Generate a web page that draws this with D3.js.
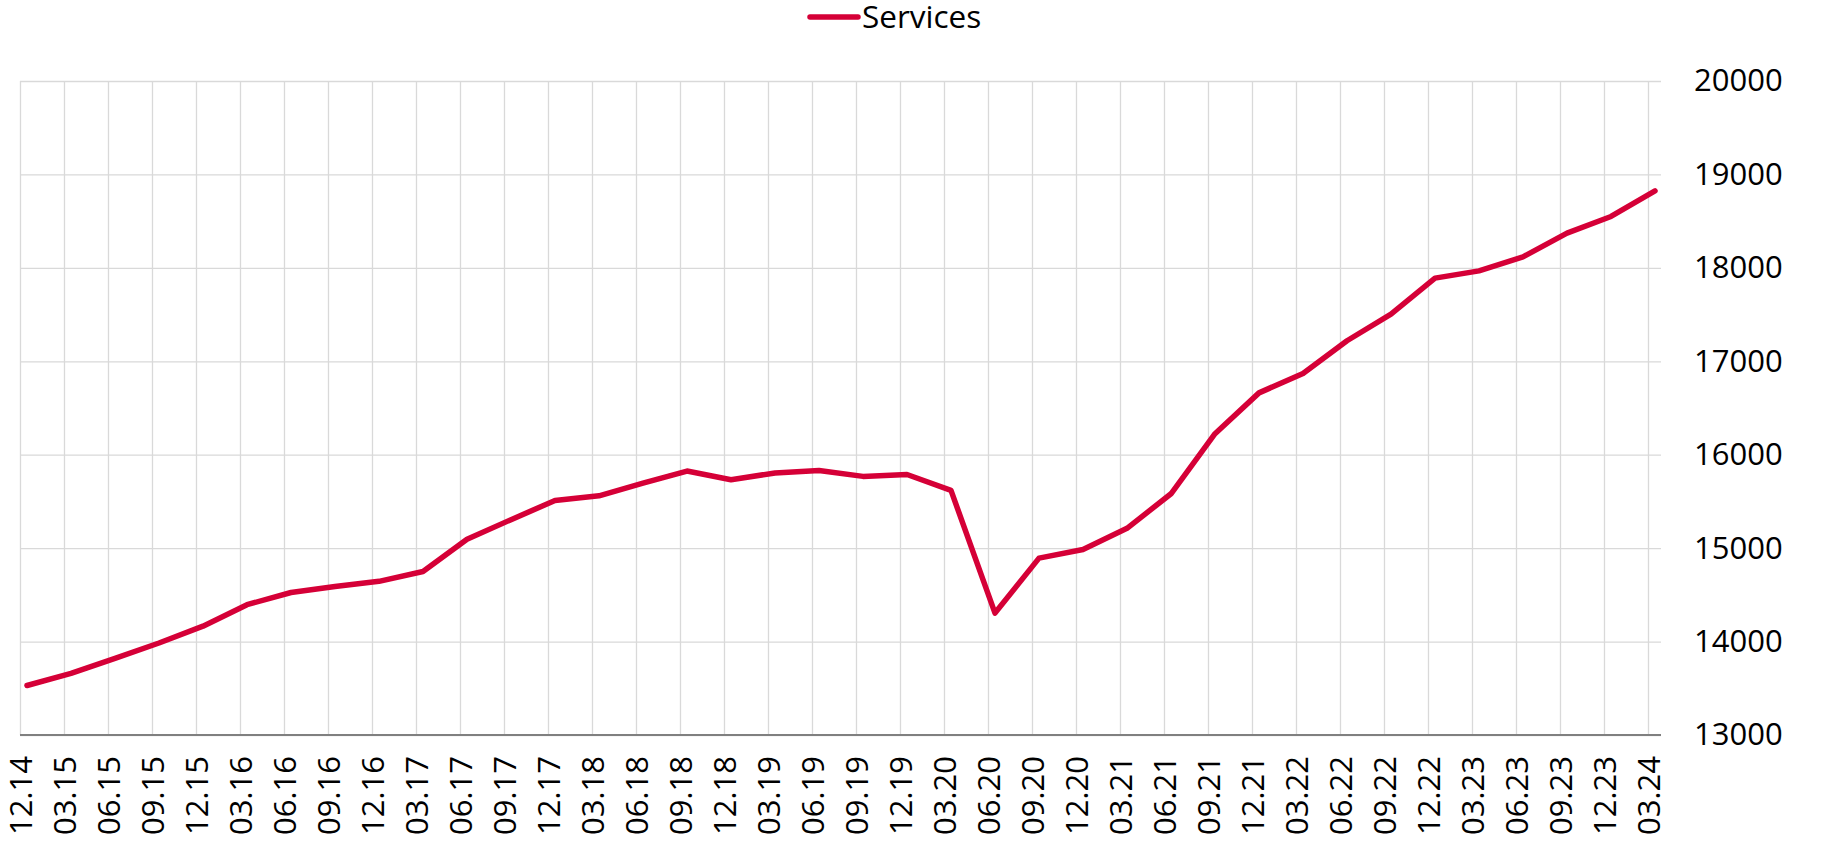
<!DOCTYPE html>
<html lang="en">
<head>
    <meta charset="UTF-8">
    <title>Services</title>
    <script src="https://d3js.org/d3.v7.min.js"></script>
    <style>
        body { margin: 0; background: #fff; }
        text { font-family: "Open Sans", "Noto Sans", sans-serif; fill: #000; }
    </style>
</head>
<body>
    <svg width="1839" height="844"></svg>
    <script>
        // quarter labels (MM.YY)
        const categories = [
            "12.14",
            "03.15", "06.15", "09.15", "12.15",
            "03.16", "06.16", "09.16", "12.16",
            "03.17", "06.17", "09.17", "12.17",
            "03.18", "06.18", "09.18", "12.18",
            "03.19", "06.19", "09.19", "12.19",
            "03.20", "06.20", "09.20", "12.20",
            "03.21", "06.21", "09.21", "12.21",
            "03.22", "06.22", "09.22", "12.22",
            "03.23", "06.23", "09.23", "12.23",
            "03.24"
        ];
        const services = [
            13530,
            13660, 13820, 13985, 14165,
            14395, 14525, 14590, 14645,
            14750, 15095, 15305, 15510,
            15560, 15695, 15825, 15732,
            15805, 15832, 15768, 15788,
            15618, 14305, 14893, 14985,
            15212, 15582, 16225, 16662,
            16870, 17220, 17505, 17890,
            17968, 18118, 18372, 18550,
            18825
        ];
        const yTicks = [13000, 14000, 15000, 16000, 17000, 18000, 19000, 20000];
        const seriesName = "Services";

        const width = 1839;
        const height = 844;
        const plot = {left: 20, right: 1661, top: 81, bottom: 735};
        const lastCat = 1648;   // last category gridline
        const lineShift = 7;    // line points sit a little right of the gridlines
        const red = "#d50037";
        const fontSize = 31;

        const svg = d3.select("svg")
            .attr("width", width)
            .attr("height", height);

        const xScale = d3.scalePoint()
            .domain(categories)
            .range([plot.left, lastCat]);

        const yScale = d3.scaleLinear()
            .domain([yTicks[0], yTicks[yTicks.length - 1]])
            .range([plot.bottom, plot.top]);

        // horizontal gridlines
        svg.append("g")
            .attr("transform", `translate(${plot.left},0)`)
            .call(d3.axisLeft(yScale).tickValues(yTicks).tickSize(-(plot.right - plot.left)).tickFormat(""))
            .call(g => g.select(".domain").remove())
            .call(g => g.selectAll("line").attr("stroke", "#d9d9d9").attr("stroke-width", 1.3));

        // vertical gridlines
        svg.append("g")
            .attr("transform", `translate(0,${plot.top})`)
            .call(d3.axisTop(xScale).tickSize(-(plot.bottom - plot.top)).tickFormat(""))
            .call(g => g.select(".domain").remove())
            .call(g => g.selectAll("line").attr("stroke", "#d9d9d9").attr("stroke-width", 1.3));

        // x axis with rotated labels
        const xAxis = svg.append("g")
            .attr("transform", `translate(0,${plot.bottom})`)
            .call(d3.axisBottom(xScale).tickSize(0));
        xAxis.select(".domain").remove();
        xAxis.selectAll("text")
            .attr("transform", "rotate(-90)")
            .attr("x", -21)
            .attr("y", 0)
            .attr("dy", "0.36em")
            .attr("text-anchor", "end")
            .style("font-size", fontSize + "px")
            .style("font-family", '"Open Sans", "Noto Sans", sans-serif')
            .attr("fill", "#000");
        svg.append("line")
            .attr("x1", plot.left)
            .attr("x2", plot.right)
            .attr("y1", plot.bottom)
            .attr("y2", plot.bottom)
            .attr("stroke", "#808080")
            .attr("stroke-width", 1.8);

        // y axis on the right
        const yAxis = svg.append("g")
            .attr("transform", `translate(1694,0)`)
            .call(d3.axisRight(yScale).tickValues(yTicks).tickSize(0).tickPadding(0).tickFormat(d3.format("d")));
        yAxis.select(".domain").remove();
        yAxis.selectAll("text")
            .style("font-size", fontSize + "px")
            .style("font-family", '"Open Sans", "Noto Sans", sans-serif')
            .attr("fill", "#000");

        // clip line to plot area
        svg.append("clipPath")
            .attr("id", "plotClip")
            .append("rect")
            .attr("x", plot.left)
            .attr("y", 0)
            .attr("width", plot.right - plot.left)
            .attr("height", plot.bottom);

        const line = d3.line()
            .x((d, i) => xScale(categories[i]) + lineShift)
            .y(d => yScale(d));

        svg.append("path")
            .datum(services)
            .attr("clip-path", "url(#plotClip)")
            .attr("fill", "none")
            .attr("stroke", red)
            .attr("stroke-width", 5.5)
            .attr("stroke-linejoin", "round")
            .attr("stroke-linecap", "round")
            .attr("d", line);

        // legend
        const legend = svg.append("g").attr("transform", "translate(808,19)");
        legend.append("line")
            .attr("x1", 2).attr("x2", 50)
            .attr("y1", -2).attr("y2", -2)
            .attr("stroke", red)
            .attr("stroke-width", 5.5)
            .attr("stroke-linecap", "round");
        legend.append("text")
            .attr("x", 54)
            .attr("y", 0)
            .attr("dy", "0.3em")
            .style("font-size", "31.5px")
            .text(seriesName);
    </script>
</body>
</html>
